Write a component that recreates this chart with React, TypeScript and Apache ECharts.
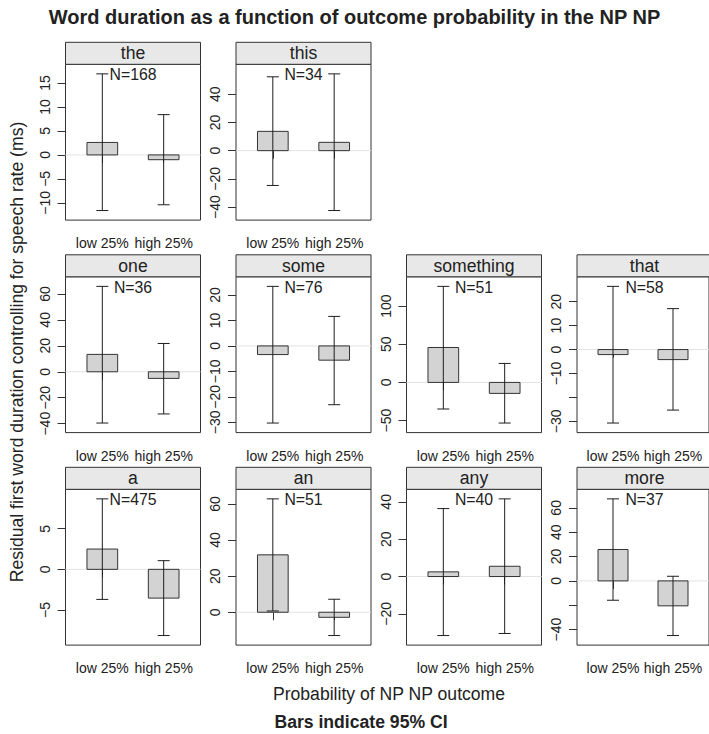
import React, { useEffect, useRef } from 'react';
import * as echarts from 'echarts';

// ---------- data ----------
const words = ['the', 'this', 'one', 'some', 'something', 'that', 'a', 'an', 'any', 'more'];
const nCounts = [168, 34, 36, 76, 51, 58, 475, 51, 40, 37];
const categories = ['low 25%', 'high 25%'];
const lowMean = [2.6, 13.7, 13.4, -3.4, 45.8, -2.1, 2.5, 31.8, 2.5, 25.8];
const lowLower = [-11.6, -24.7, -39.5, -30.3, -34.9, -30.7, -3.7, 0.7, -31.6, -15.9];
const lowUpper = [16.9, 52.4, 65.8, 23.4, 126, 26.4, 8.68, 62.8, 36.4, 67.4];
const highMean = [-1.0, 5.9, -5.1, -5.6, -14.4, -4.2, -3.54, -2.8, 5.5, -20.5];
const highLower = [-10.4, -42.5, -32.5, -23.1, -53.3, -25.3, -8.15, -12.9, -30.5, -44.9];
const highUpper = [8.4, 54.5, 21.8, 11.6, 24.9, 17.1, 1.07, 7.2, 41.6, 3.8];
const yTicks = [
  [-10, -5, 0, 5, 10, 15],
  [-40, -20, 0, 20, 40],
  [-40, -20, 0, 20, 40, 60],
  [-30, -20, -10, 0, 10, 20],
  [-50, 0, 50, 100],
  [-30, -20, -10, 0, 10, 20],
  [-5, 0, 5],
  [0, 20, 40, 60],
  [-20, 0, 20, 40],
  [-40, -20, 0, 20, 40, 60],
];
const yHiddenLabels = [[], [], [], [], [], [-20], [], [], [], [-20]];
const panelRow = [0, 0, 1, 1, 1, 1, 2, 2, 2, 2];
const panelCol = [0, 1, 0, 1, 2, 3, 0, 1, 2, 3];
const titleText = 'Word duration as a function of outcome probability in the NP NP';
const yTitle = 'Residual first word duration controlling for speech rate (ms)';
const xTitle = 'Probability of NP NP outcome';
const caption = 'Bars indicate 95% CI';

// ---------- layout ----------
const W = 709;
const H = 734;
const colLeft = [65.5, 236, 406.5, 577];
const panelW = 135;
const panelTop = [64.3, 276.8, 489.3];
const panelH = 155.8;
const stripH = 22;
const FONT = '"Liberation Sans", Arial, Helvetica, sans-serif';
const TEXT = '#222';
const LINE = '#333';

const fmt = (v: number) => (v < 0 ? '\u2212' + Math.abs(v) : String(v));

function buildOption() {
  const grids: any[] = [];
  const xAxes: any[] = [];
  const yAxes: any[] = [];
  const series: any[] = [];
  const graphics: any[] = [];

  words.forEach((w, i) => {
    const left = colLeft[panelCol[i]];
    const top = panelTop[panelRow[i]];
    const lo = Math.min(lowLower[i], highLower[i], lowMean[i], highMean[i], 0);
    const hi = Math.max(lowUpper[i], highUpper[i], lowMean[i], highMean[i], 0);
    const pad = (hi - lo) * 0.07;

    grids.push({
      left, top, width: panelW, height: panelH,
      show: true, borderColor: LINE, borderWidth: 1, backgroundColor: '#fff',
    });
    xAxes.push({
      type: 'value', gridIndex: i, min: 0.4, max: 2.6,
      axisLine: { show: false }, splitLine: { show: false },
      axisTick: { show: true, inside: false, length: 8, customValues: [1, 2], lineStyle: { color: LINE } },
      axisLabel: {
        show: true, customValues: [1, 2], margin: 16, fontSize: 14, color: TEXT, fontFamily: FONT,
        formatter: (v: number) => categories[Math.round(v) - 1],
      },
    });
    const ticks = yTicks[i];
    yAxes.push({
      type: 'value', gridIndex: i, min: lo - pad, max: hi + pad,
      axisLine: { show: false }, splitLine: { show: false },
      axisTick: { show: true, inside: false, length: 8, customValues: ticks, lineStyle: { color: LINE } },
      axisLabel: {
        show: true, rotate: 90, margin: 14, fontSize: 14, color: TEXT, fontFamily: FONT,
        customValues: ticks.filter((t) => !yHiddenLabels[i].includes(t)),
        formatter: fmt,
      },
    });

    // zero reference line
    series.push({
      type: 'custom', xAxisIndex: i, yAxisIndex: i, silent: true,
      data: [[1, 0]],
      renderItem: (params: any, api: any) => {
        const cs = params.coordSys;
        const y = api.coord([1, api.value(1)])[1];
        return {
          type: 'line',
          shape: { x1: cs.x, y1: y, x2: cs.x + cs.width, y2: y },
          style: { stroke: '#e3e3e3', lineWidth: 1 },
        };
      },
    });
    // bars
    series.push({
      type: 'custom', xAxisIndex: i, yAxisIndex: i, silent: true,
      data: [[1, lowMean[i]], [2, highMean[i]]],
      renderItem: (params: any, api: any) => {
        const x = api.value(0);
        const v = api.value(1);
        const p0 = api.coord([x, 0]);
        const p1 = api.coord([x, v]);
        const bw = api.size([0.5, 0])[0];
        return {
          type: 'rect',
          shape: { x: p0[0] - bw / 2, y: Math.min(p0[1], p1[1]), width: bw, height: Math.abs(p1[1] - p0[1]) },
          style: { fill: '#d3d3d3', stroke: LINE, lineWidth: 1 },
        };
      },
    });
    // whiskers
    series.push({
      type: 'custom', xAxisIndex: i, yAxisIndex: i, silent: true,
      data: [[1, lowLower[i], lowUpper[i]], [2, highLower[i], highUpper[i]]],
      renderItem: (params: any, api: any) => {
        const x = api.value(0);
        const a = api.coord([x, api.value(1)]);
        const b = api.coord([x, api.value(2)]);
        const cap = 6;
        const st = { stroke: '#1e1e1e', lineWidth: 1 };
        return {
          type: 'group',
          children: [
            { type: 'line', shape: { x1: a[0], y1: a[1], x2: b[0], y2: b[1] }, style: st },
            { type: 'line', shape: { x1: a[0] - cap, y1: a[1], x2: a[0] + cap, y2: a[1] }, style: st },
            { type: 'line', shape: { x1: b[0] - cap, y1: b[1], x2: b[0] + cap, y2: b[1] }, style: st },
          ],
        };
      },
    });

    // strip
    graphics.push({
      type: 'rect', shape: { x: left, y: top - stripH, width: panelW, height: stripH },
      style: { fill: '#e8e8e8', stroke: LINE, lineWidth: 1 }, silent: true,
    });
    graphics.push({
      type: 'text', x: left + panelW / 2, y: top - stripH / 2,
      style: { text: w, fontSize: 17.6, fontFamily: FONT, fill: TEXT, textAlign: 'center', textVerticalAlign: 'middle' },
      silent: true,
    });
    // N label
    graphics.push({
      type: 'text', x: left + panelW / 2, y: top + 10.5, z: 10,
      style: { text: 'N=' + nCounts[i], fontSize: 15.8, fontFamily: FONT, fill: TEXT, textAlign: 'center', textVerticalAlign: 'middle' },
      silent: true,
    });
  });

  graphics.push({
    type: 'text', x: W / 2, y: 17,
    style: { text: titleText, fontSize: 20, fontWeight: 'bold', fontFamily: FONT, fill: TEXT, textAlign: 'center', textVerticalAlign: 'middle' },
  });
  graphics.push({
    type: 'text', x: 17, y: 352, rotation: Math.PI / 2,
    style: { text: yTitle, fontSize: 17.6, fontFamily: FONT, fill: TEXT, textAlign: 'center', textVerticalAlign: 'middle' },
  });
  graphics.push({
    type: 'text', x: 389, y: 694,
    style: { text: xTitle, fontSize: 17.6, fontFamily: FONT, fill: TEXT, textAlign: 'center', textVerticalAlign: 'middle' },
  });
  graphics.push({
    type: 'text', x: 361, y: 722,
    style: { text: caption, fontSize: 17.6, fontWeight: 'bold', fontFamily: FONT, fill: TEXT, textAlign: 'center', textVerticalAlign: 'middle' },
  });

  return {
    animation: false,
    backgroundColor: '#ffffff',
    textStyle: { fontFamily: FONT },
    grid: grids,
    xAxis: xAxes,
    yAxis: yAxes,
    series,
    graphic: { elements: graphics },
  };
}

export default function App() {
  const ref = useRef<HTMLDivElement>(null);
  useEffect(() => {
    if (!ref.current) return;
    const chart = echarts.init(ref.current, null, { renderer: 'svg', width: W, height: H });
    chart.setOption(buildOption() as any);
    return () => chart.dispose();
  }, []);
  return (
    <div
      ref={ref}
      style={{ position: 'absolute', left: 0, top: 0, width: W, height: H, background: '#fff' }}
    />
  );
}
